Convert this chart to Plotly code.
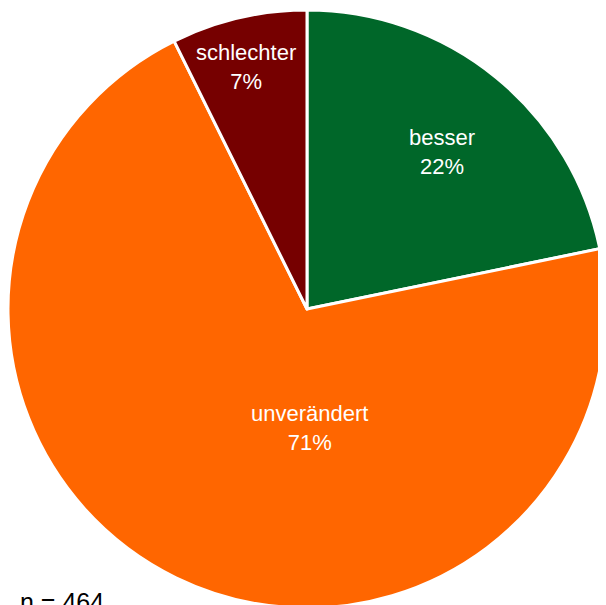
import plotly.graph_objects as go

labels = ["besser", "unverändert", "schlechter"]
counts = [101, 329, 34]
colors = ["#006729", "#ff6600", "#760000"]
n_total = sum(counts)

# the page body has an 8px margin, so the figure is sized to the visible area
W, H = 598, 620
FONT = "Liberation Sans, Arial, sans-serif"

# label block centres (figure pixels), picked to match the reference layout
label_pos = {
    "besser": (434, 144),
    "unverändert": (301, 420),
    "schlechter": (238, 59),
}

fig = go.Figure(
    go.Pie(
        labels=labels,
        values=counts,
        sort=False,
        direction="clockwise",
        rotation=0,
        marker=dict(colors=colors, line=dict(color="white", width=3)),
        textinfo="none",
        hoverinfo="label+value+percent",
        domain=dict(x=[0.0, 1.0], y=[(H - 600) / H, (H - 2) / H]),
        showlegend=False,
    )
)

for lab, cnt in zip(labels, counts):
    px_, py_ = label_pos[lab]
    fig.add_annotation(
        text=f"{lab}<br>{round(100 * cnt / n_total)}%",
        x=px_ / W,
        y=1 - py_ / H,
        xref="paper",
        yref="paper",
        xanchor="center",
        yanchor="middle",
        showarrow=False,
        font=dict(family=FONT, size=22, color="white"),
    )

fig.add_annotation(
    text=f"n = {n_total}",
    x=10 / W,
    y=1 - 610 / H,
    xref="paper",
    yref="paper",
    xanchor="left",
    yanchor="bottom",
    showarrow=False,
    font=dict(family=FONT, size=25, color="black"),
)

fig.update_layout(
    width=W,
    height=H,
    margin=dict(l=0, r=0, t=0, b=0),
    paper_bgcolor="white",
    plot_bgcolor="white",
)

fig.write_html("out.html")
